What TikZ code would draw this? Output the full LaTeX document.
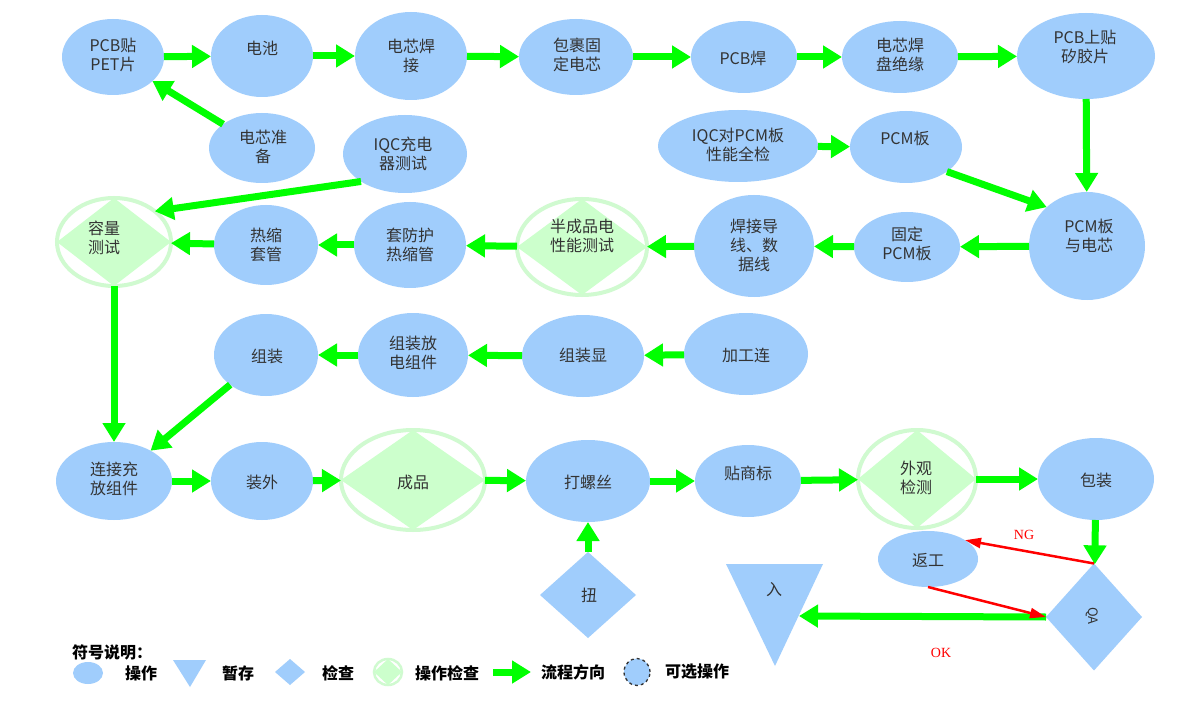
\documentclass[tikz,border=0pt]{standalone}
\usepackage{fontspec}
\setmainfont{Noto Sans CJK SC}
\newfontfamily\ngfont{Liberation Serif}
\usetikzlibrary{arrows.meta,shapes.geometric,calc}
\definecolor{opblue}{RGB}{160,205,252}
\definecolor{chkgreen}{RGB}{204,255,204}
\definecolor{ringgreen}{RGB}{208,250,208}
\definecolor{flowgreen}{RGB}{0,255,0}
\definecolor{txtgray}{RGB}{51,51,51}
\definecolor{ngred}{RGB}{255,0,0}
\begin{document}
\begin{tikzpicture}[x=1pt,y=-1pt,
  sz/.style 2 args={minimum width=#1pt, minimum height=#2pt},
  op/.style={ellipse, fill=opblue, inner sep=0pt, outer sep=0pt},
  chkring/.style={ellipse, draw=ringgreen, line width=4pt, fill=white, inner sep=0pt, outer sep=0pt},
  qbox/.style={diamond, fill=opblue, inner sep=0pt, outer sep=0pt},
  txt/.style={text=txtgray, font=\fontsize{16}{19}\selectfont, align=center, inner sep=0pt},
  flow/.style={draw=flowgreen, line width=7pt, -{Triangle[width=22pt,length=19pt]}},
  ngflow/.style={draw=ngred, line width=2.5pt, -{Triangle[width=10pt,length=16pt]}},
  ngtxt/.style={text=ngred, font=\ngfont\fontsize{14}{16}\selectfont, inner sep=0pt},
  lgtxt/.style={text=black, font=\bfseries\fontsize{16}{19}\selectfont, inner sep=0pt},
]
\useasboundingbox[fill=white] (0,0) rectangle (1200,714);

% ---------- row 1
\node[op, sz={102}{76}] (pcbpet) at (113,57) {};
\node[op, sz={102}{82}] (dianchi) at (262,56) {};
\node[op, sz={112}{88}] (dxhj) at (411,56) {};
\node[op, sz={114}{76}] (bgdx) at (576,57) {};
\node[op, sz={106}{72}] (pcbh) at (744,57) {};
\node[op, sz={116}{72}] (dxhp) at (900,57) {};
\node[op, sz={138}{86}] (pcbsg) at (1086,56) {};
\node[txt] (t-pcbpet) at (113,55) {PCB贴\\PET片};
\node[txt] (t-dianchi) at (262,48) {电池};
\node[txt] (t-dxhj) at (411,56) {电芯焊\\接};
\node[txt] (t-bgdx) at (577,55) {包裹固\\定电芯};
\node[txt] (t-pcbh) at (743,58) {PCB焊};
\node[txt] (t-dxhp) at (900,55) {电芯焊\\盘绝缘};
\node[txt] (t-pcbsg) at (1085,47) {PCB上贴\\矽胶片};

% ---------- row 1.5
\node[op, sz={106}{70}] (dxzb) at (262,148) {};
\node[op, sz={124}{78}] (iqcc) at (405,154) {};
\node[op, sz={160}{72}] (iqcp) at (738,146) {};
\node[op, sz={112}{72}] (pcmb) at (906,147) {};
\node[txt] (t-dxzb) at (263,147) {电芯准\\备};
\node[txt] (t-iqcc) at (403,154) {IQC充电\\器测试};
\node[txt] (t-iqcp) at (738,145) {IQC对PCM板\\性能全检};
\node[txt] (t-pcmb) at (905,138) {PCM板};

% ---------- row 2
\node[chkring, sz={114}{88}] (cap) at (114,242) {};
\fill[chkgreen] (cap.north) -- (cap.east) -- (cap.south) -- (cap.west) -- cycle;
\node[op, sz={104}{80}] (rsgt) at (266,245) {};
\node[op, sz={112}{86}] (tfh) at (410,245) {};
\node[chkring, sz={130}{96}] (bcp) at (582,247) {};
\fill[chkgreen] (bcp.north) -- (bcp.east) -- (bcp.south) -- (bcp.west) -- cycle;
\node[op, sz={120}{102}] (hjdx) at (754,246) {};
\node[op, sz={106}{70}] (gdpcm) at (907,247) {};
\node[op, sz={116}{108}] (pcmdx) at (1087,246) {};
\node[txt] (t-cap) at (104,238) {容量\\测试};
\node[txt] (t-rsgt) at (266,245) {热缩\\套管};
\node[txt] (t-tfh) at (410,245) {套防护\\热缩管};
\node[txt] (t-bcp) at (582,236) {半成品电\\性能测试};
\node[txt] (t-hjdx) at (754,245) {焊接导\\线、数\\据线};
\node[txt] (t-gdpcm) at (907,244) {固定\\PCM板};
\node[txt] (t-pcmdx) at (1089,236) {PCM板\\与电芯};

% ---------- row 3
\node[op, sz={104}{82}] (zz) at (266,355) {};
\node[op, sz={110}{84}] (zzfd) at (413,355) {};
\node[op, sz={122}{82}] (zzx) at (583,356) {};
\node[op, sz={124}{82}] (jgl) at (746,354) {};
\node[txt] (t-zz) at (267,356) {组装};
\node[txt] (t-zzfd) at (413,353) {组装放\\电组件};
\node[txt] (t-zzx) at (583,355) {组装显};
\node[txt] (t-jgl) at (746,355) {加工连};

% ---------- row 4
\node[op, sz={116}{78}] (ljcf) at (114,481) {};
\node[op, sz={102}{78}] (zw) at (262,481) {};
\node[chkring, sz={144}{100}] (cp) at (413,480) {};
\fill[chkgreen] (cp.north) -- (cp.east) -- (cp.south) -- (cp.west) -- cycle;
\node[op, sz={124}{82}] (dls) at (588,481) {};
\node[op, sz={106}{72}] (tsb) at (748,481) {};
\node[chkring, sz={118}{98}] (wgjc) at (917,479) {};
\fill[chkgreen] (wgjc.north) -- (wgjc.east) -- (wgjc.south) -- (wgjc.west) -- cycle;
\node[op, sz={116}{82}] (bz) at (1096,479) {};
\node[txt] (t-ljcf) at (114,479) {连接充\\放组件};
\node[txt] (t-zw) at (262,482) {装外};
\node[txt] (t-cp) at (413,482) {成品};
\node[txt] (t-dls) at (588,482) {打螺丝};
\node[txt] (t-tsb) at (748,473) {贴商标};
\node[txt] (t-wgjc) at (916,478) {外观\\检测};
\node[txt] (t-bz) at (1096,480) {包装};

% ---------- bottom
\node[qbox, sz={96}{86}] (niu) at (588,595) {};
\node[txt] (t-niu) at (589,595) {扭};
\node[op, sz={100}{56}] (fg) at (928,559) {};
\node[txt] (t-fg) at (928,560) {返工};
\node[qbox, sz={96}{107}] (qa) at (1094,617) {};
\node[txt, rotate=-90, font=\fontsize{13}{15}\selectfont] (t-qa) at (1092,616) {QA};
\coordinate (triL) at (726,564);
\coordinate (triR) at (823,564);
\coordinate (triB) at (775,666);
\fill[opblue] (triL) -- (triR) -- (triB) -- cycle;
\node[txt] (t-ru) at (774,590) {入};
\coordinate (ruE) at (799,616);

% ---------- connectors
\draw[flow] (pcbpet) -- (dianchi);
\draw[flow] (dianchi) -- (dxhj);
\draw[flow] (dxhj) -- (bgdx);
\draw[flow] (bgdx) -- (pcbh);
\draw[flow] (pcbh) -- (dxhp);
\draw[flow] (dxhp) -- (pcbsg);
\draw[flow] (pcbsg) -- (pcmdx);
\draw[flow] (dxzb) -- (pcbpet);
\draw[flow] (iqcc.212) -- (cap.37);
\draw[flow] (iqcp) -- (pcmb);
\draw[flow] (pcmb.-31) -- (pcmdx.136);
\draw[flow] (pcmdx) -- (gdpcm);
\draw[flow] (gdpcm) -- (hjdx);
\draw[flow] (hjdx) -- (bcp);
\draw[flow] (bcp) -- (tfh);
\draw[flow] (tfh) -- (rsgt);
\draw[flow] (rsgt) -- (cap);
\draw[flow] (cap) -- (ljcf);
\draw[flow] (jgl) -- (zzx);
\draw[flow] (zzx) -- (zzfd);
\draw[flow] (zzfd) -- (zz);
\draw[flow] (zz) -- (ljcf);
\draw[flow] (ljcf) -- (zw);
\draw[flow] (zw) -- (cp);
\draw[flow] (cp) -- (dls);
\draw[flow] (dls) -- (tsb);
\draw[flow] (tsb) -- (wgjc);
\draw[flow] (wgjc) -- (bz);
\draw[flow] (niu) -- (dls);
\draw[flow] (bz) -- (qa);
\draw[flow] (qa.west) -- (ruE);
\draw[ngflow] (qa.north) -- (fg.27);
\draw[ngflow] (fg.south) -- (qa.west);
\node[ngtxt] (ng) at (1024,535) {NG};
\node[ngtxt] (ok) at (941,653) {OK};

% ---------- legend
\node[lgtxt, anchor=west] (lg-title) at (72,652) {符号说明：};
\node[op, sz={30}{22}] (lg-op) at (88,673) {};
\node[lgtxt] (lg-op-t) at (141,673) {操作};
\coordinate (lgTL) at (173,660);
\coordinate (lgTR) at (206,660);
\coordinate (lgTB) at (190,687);
\fill[opblue] (lgTL) -- (lgTR) -- (lgTB) -- cycle;
\node[lgtxt] (lg-tri-t) at (238,673) {暂存};
\node[qbox, sz={30}{26}] (lg-dia) at (290,672) {};
\node[lgtxt] (lg-dia-t) at (338,673) {检查};
\node[chkring, sz={28}{26}, line width=2.5pt] (lg-chk) at (388,672) {};
\fill[chkgreen] (lg-chk.north) -- (lg-chk.east) -- (lg-chk.south) -- (lg-chk.west) -- cycle;
\node[lgtxt] (lg-chk-t) at (447,673) {操作检查};
\coordinate (lgA1) at (493,672);
\coordinate (lgA2) at (531,672);
\draw[flow] (lgA1) -- (lgA2);
\node[lgtxt] (lg-arr-t) at (573,672) {流程方向};
\node[ellipse, fill=opblue, draw=txtgray, dashed, line width=1.3pt, sz={26}{27}, inner sep=0pt] (lg-opt) at (637,672) {};
\node[lgtxt] (lg-opt-t) at (697,672) {可选操作};
\end{tikzpicture}
\end{document}
